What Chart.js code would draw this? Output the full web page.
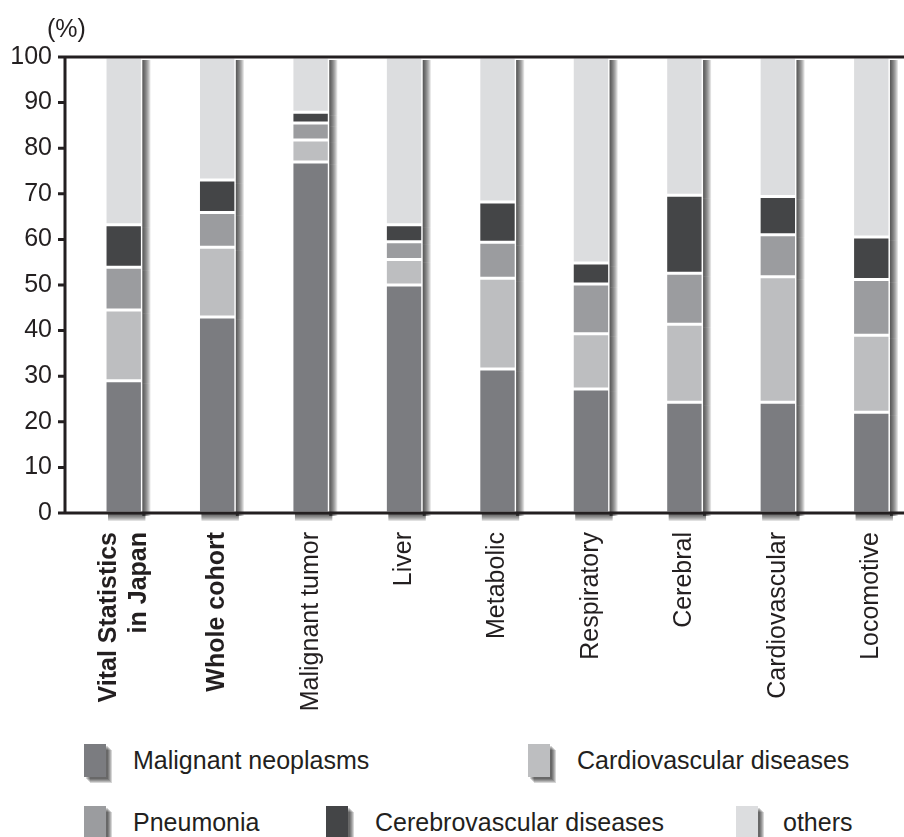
<!DOCTYPE html>
<html>
<head>
<meta charset="utf-8">
<script src="https://cdn.jsdelivr.net/npm/chart.js@4.4.1/dist/chart.umd.min.js"></script>
<style>
  html, body { margin: 0; padding: 0; background: #fff; overflow: hidden; }
  body { width: 904px; height: 837px; position: relative; font-family: "Liberation Sans", Arial, sans-serif; color: #231f20; }
  #wrap { position: absolute; left: 0; top: 0; width: 918px; height: 720px; }
  #unit { position: absolute; left: 47px; top: 14px; font-size: 25px; line-height: 28px; }
  .leg { position: absolute; font-size: 25px; line-height: 32px; white-space: nowrap; }
  .box { position: absolute; display: block; width: 22px; height: 33px; }
  .sh { position: absolute; display: block; width: 22px; height: 33px; background: rgba(0,0,0,0.16); }
  .leg span { position: absolute; top: 0; }
</style>
</head>
<body>
<div id="wrap"><canvas id="chart"></canvas></div>
<div id="unit">(%)</div>
<div id="legend"></div>
<script>
// categories (x axis), first two are printed in bold
const categories = [
  ['Vital Statistics', 'in Japan'], 'Whole cohort', 'Malignant tumor', 'Liver',
  'Metabolic', 'Respiratory', 'Cerebral', 'Cardiovascular', 'Locomotive'
];
const boldCount = 2;

// cause-of-death shares (%) per category, bottom to top
const malignant = [29.0, 43.0, 77.0, 50.0, 31.6, 27.2, 24.3, 24.3, 22.1];
const cardio    = [15.5, 15.3, 4.8, 5.6, 19.9, 12.1, 17.1, 27.5, 16.9];
const pneumonia = [9.4, 7.6, 3.7, 3.9, 7.9, 10.9, 11.2, 9.2, 12.2];
const cerebro   = [9.3, 7.1, 2.4, 3.7, 8.8, 4.6, 17.1, 8.4, 9.3];
const others    = [36.8, 27.0, 12.1, 36.8, 31.8, 45.2, 30.3, 30.6, 39.5];

const seriesNames = ['Malignant neoplasms', 'Cardiovascular diseases', 'Pneumonia', 'Cerebrovascular diseases', 'others'];
const seriesColors = ['#7b7c80', '#bdbec0', '#9b9c9f', '#444547', '#dcdddf'];
const seriesData = [malignant, cardio, pneumonia, cerebro, others];

const FONT = '"Liberation Sans", Arial, sans-serif';
const INK = '#231f20';

// soft drop shadow behind each bar column, built from stacked translucent rects
const shadowPlugin = {
  id: 'barShadow',
  afterDatasetsDraw(chart) {
    const ctx = chart.ctx;
    const area = chart.chartArea;
    ctx.save();
    ctx.fillStyle = 'rgba(0,0,0,0.12)';
    chart.getSortedVisibleDatasetMetas().forEach(meta => {
      meta.data.forEach(bar => {
        const p = bar.getProps(['x', 'y', 'base', 'width'], true);
        const left = p.x - p.width / 2;
        const right = p.x + p.width / 2;
        const top = Math.min(p.y, p.base);
        const bottom = Math.max(p.y, p.base);
        // strips to the right of the column and below its foot
        for (let s = 1; s <= 8; s++) {
          ctx.fillRect(right, top + 3, s, bottom - top);
          if (p.base >= area.bottom - 1) {
            ctx.fillRect(left + 3, bottom, right - left, s);
          }
        }
      });
    });
    ctx.restore();
  }
};

// axis frame, tick marks and rotated category labels
const framePlugin = {
  id: 'frame',
  afterDraw(chart) {
    const { ctx, chartArea, scales } = chart;
    const axisX = chartArea.left - 12;
    ctx.save();
    ctx.strokeStyle = INK;
    ctx.lineWidth = 3;
    ctx.beginPath();
    ctx.moveTo(axisX, chartArea.top);
    ctx.lineTo(axisX, chartArea.bottom);
    ctx.moveTo(axisX - 7, chartArea.top);
    ctx.lineTo(chart.width, chartArea.top);
    ctx.moveTo(axisX - 7, chartArea.bottom);
    ctx.lineTo(chart.width, chartArea.bottom);
    scales.y.ticks.forEach(t => {
      const py = scales.y.getPixelForValue(t.value);
      ctx.moveTo(axisX - 7, py);
      ctx.lineTo(axisX, py);
    });
    ctx.stroke();

    ctx.fillStyle = INK;
    ctx.textAlign = 'right';
    ctx.textBaseline = 'middle';
    const lh = 30;
    categories.forEach((label, i) => {
      const lines = Array.isArray(label) ? label : [label];
      const px = scales.x.getPixelForValue(i);
      ctx.font = (i < boldCount ? 'bold ' : '') + '25px ' + FONT;
      lines.forEach((line, j) => {
        ctx.save();
        ctx.translate(px + (j - (lines.length - 1) / 2) * lh, chartArea.bottom + 19);
        ctx.rotate(-Math.PI / 2);
        ctx.fillText(line, 0, 0);
        ctx.restore();
      });
    });
    ctx.restore();
  }
};

new Chart(document.getElementById('chart'), {
  type: 'bar',
  data: {
    labels: categories,
    datasets: seriesNames.map((name, k) => ({
      label: name,
      data: seriesData[k],
      backgroundColor: seriesColors[k],
      borderColor: '#ffffff',
      borderWidth: 1.5,
      borderSkipped: false,
      barPercentage: 0.4,
      categoryPercentage: 1
    }))
  },
  options: {
    responsive: true,
    maintainAspectRatio: false,
    animation: false,
    layout: { padding: { top: 57, left: 0, right: 0, bottom: 0 } },
    plugins: { legend: { display: false }, tooltip: { enabled: false } },
    scales: {
      x: {
        stacked: true,
        grid: { display: false, drawTicks: false },
        border: { display: false },
        ticks: { display: false },
        afterFit(scale) { scale.height = 207; }
      },
      y: {
        stacked: true,
        min: 0,
        max: 100,
        grid: { display: false, drawTicks: false },
        border: { display: false },
        ticks: { stepSize: 10, padding: 25, color: INK, font: { family: FONT, size: 25 } },
        afterFit(scale) { scale.width = 77; }
      }
    }
  },
  plugins: [shadowPlugin, framePlugin]
});

// legend (two rows, like the figure)
const legendPos = [
  { left: 84, top: 744, textX: 49 },
  { left: 528, top: 744, textX: 49 },
  { left: 84, top: 806, textX: 49 },
  { left: 326, top: 806, textX: 49 },
  { left: 736, top: 806, textX: 47 }
];
const legend = document.getElementById('legend');
seriesNames.forEach((name, k) => {
  const d = document.createElement('div');
  d.className = 'leg';
  d.style.left = legendPos[k].left + 'px';
  d.style.top = legendPos[k].top + 'px';
  let html = '';
  for (let s = 2; s <= 6; s++) {
    html += '<div class="sh" style="left:' + s + 'px;top:' + s + 'px"></div>';
  }
  html += '<div class="box" style="left:0;top:0;background:' + seriesColors[k] + '"></div>';
  html += '<span style="left:' + legendPos[k].textX + 'px">' + name + '</span>';
  d.innerHTML = html;
  legend.appendChild(d);
});
</script>
</body>
</html>
